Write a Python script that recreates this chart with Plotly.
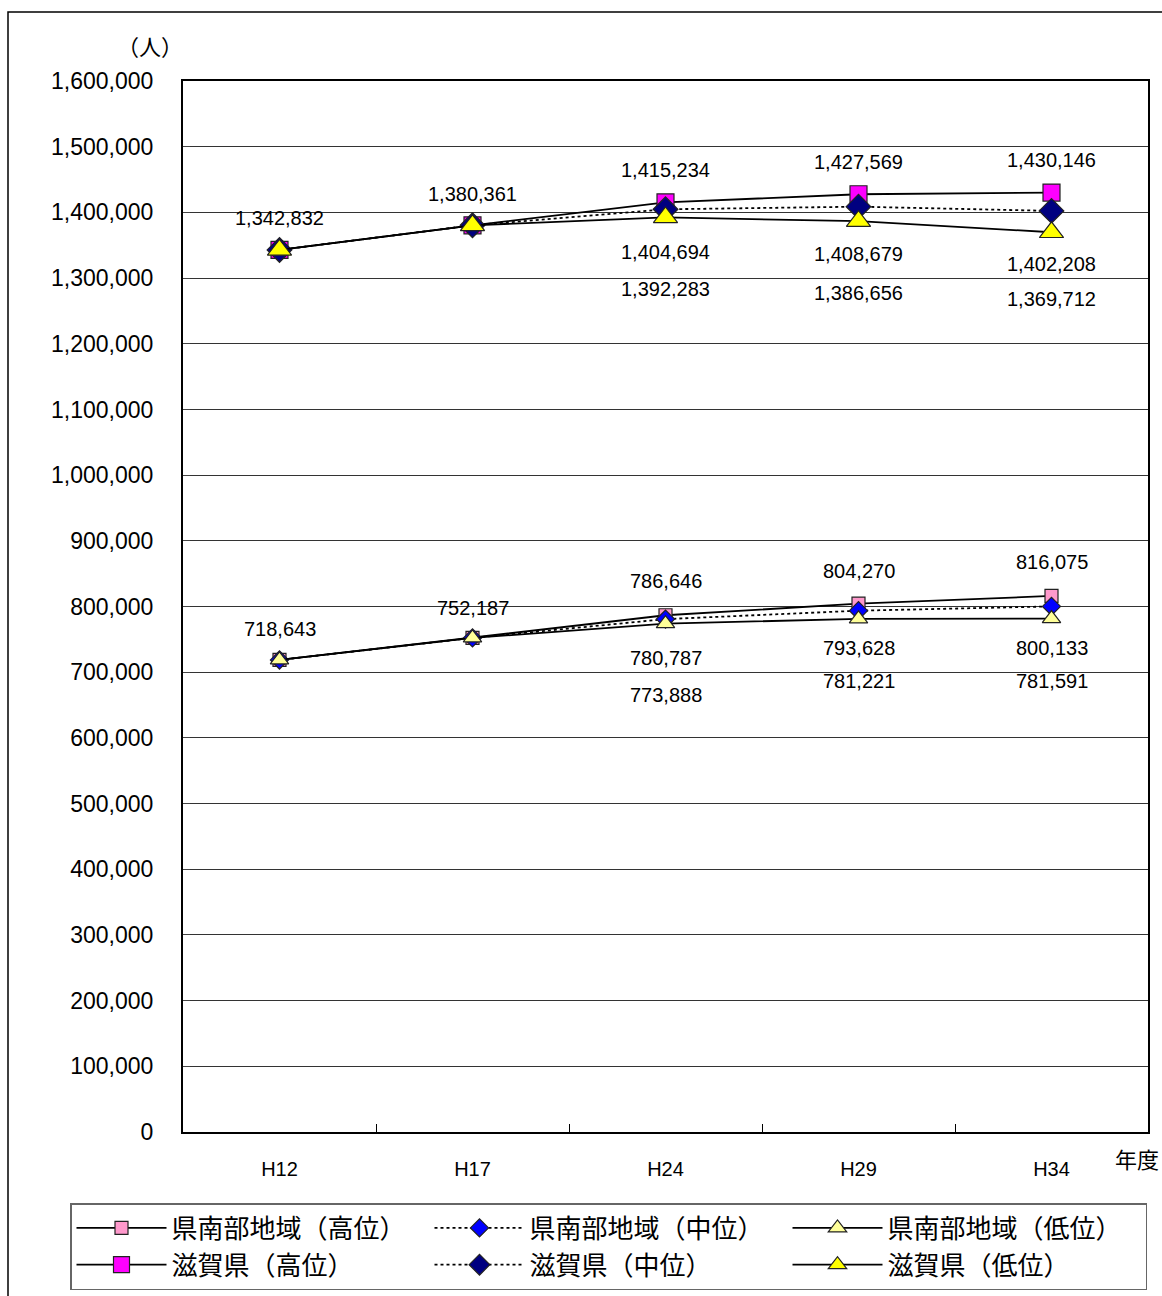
import plotly.graph_objects as go

years = ["H12", "H17", "H24", "H29", "H34"]

shiga_high = [1342832, 1380361, 1415234, 1427569, 1430146]
shiga_mid = [1342832, 1380361, 1404694, 1408679, 1402208]
shiga_low = [1342832, 1380361, 1392283, 1386656, 1369712]

south_high = [718643, 752187, 786646, 804270, 816075]
south_mid = [718643, 752187, 780787, 793628, 800133]
south_low = [718643, 752187, 773888, 781221, 781591]

y_ticks = list(range(0, 1600001, 100000))

SANS = "Liberation Sans, Arial, sans-serif"
CJK = "Noto Sans CJK JP, sans-serif"

fig = go.Figure()

def add(name, ys, symbol, color, size, dash, lw=1.8):
    fig.add_trace(go.Scatter(
        x=years, y=ys, name=name, mode="lines+markers",
        line=dict(color="black", width=lw, dash=dash),
        marker=dict(symbol=symbol, color=color, size=size,
                    line=dict(color="#222222", width=1.2)),
    ))

add("県南部地域（高位）", south_high, "square", "#FF99CC", 13, "solid")
add("県南部地域（中位）", south_mid, "diamond", "#0000FF", 14, "dot")
add("県南部地域（低位）", south_low, "triangle-up", "#FFFF99", 16, "solid")
add("滋賀県（高位）", shiga_high, "square", "#FF00FF", 17, "solid")
add("滋賀県（中位）", shiga_mid, "diamond", "#000080", 19, "dot")
add("滋賀県（低位）", shiga_low, "triangle-up", "#FFFF00", 21, "solid")

def fmt(v):
    return f"{v:,}"

# label offsets (pixels, style only)
hi_shift_top = [32, 31, 32, 32, 33]
mid_shift_top = [-43, -47, -53]
low_shift_top = [-72, -72, -67]
hi_shift_bot = [31, 30, 34, 33, 34]
mid_shift_bot = [-39, -37, -42]
low_shift_bot = [-71, -62, -62]

ann = []
for i, yr in enumerate(years):
    ann.append(dict(x=yr, y=shiga_high[i], text=fmt(shiga_high[i]), yshift=hi_shift_top[i]))
    ann.append(dict(x=yr, y=south_high[i], text=fmt(south_high[i]), yshift=hi_shift_bot[i]))
for j, i in enumerate(range(2, 5)):
    yr = years[i]
    ann.append(dict(x=yr, y=shiga_mid[i], text=fmt(shiga_mid[i]), yshift=mid_shift_top[j]))
    ann.append(dict(x=yr, y=shiga_low[i], text=fmt(shiga_low[i]), yshift=low_shift_top[j]))
    ann.append(dict(x=yr, y=south_mid[i], text=fmt(south_mid[i]), yshift=mid_shift_bot[j]))
    ann.append(dict(x=yr, y=south_low[i], text=fmt(south_low[i]), yshift=low_shift_bot[j]))
for a in ann:
    a.update(xref="x", yref="y", showarrow=False, xanchor="center", yanchor="middle",
             font=dict(family=SANS, size=20, color="black"))
    fig.add_annotation(**a)

# axis unit labels
fig.add_annotation(xref="paper", yref="paper", x=(150 - 183) / 965, y=(1132 - 45) / 1051,
                   xanchor="center", yanchor="middle",
                   text="（人）", showarrow=False, font=dict(family=CJK, size=22, color="black"))
fig.add_annotation(xref="paper", yref="paper", x=(1137 - 183) / 965, y=(1132 - 1158) / 1051,
                   xanchor="center", yanchor="middle",
                   text="年度", showarrow=False, font=dict(family=CJK, size=22, color="black"))

# outer frame
fig.add_shape(type="rect", xref="paper", yref="paper",
              x0=(8 - 183) / 965, x1=(1175 - 183) / 965,
              y0=(1132 - 1310) / 1051, y1=(1132 - 12) / 1051,
              line=dict(color="black", width=1.5), layer="below")

fig.update_layout(
    width=1162, height=1296,
    margin=dict(l=183, r=14, t=81, b=164, autoexpand=False),
    plot_bgcolor="white", paper_bgcolor="white",
    xaxis=dict(
        type="category", tickson="boundaries", ticks="inside", ticklen=8,
        tickcolor="black", showgrid=False, showline=True, linecolor="black",
        linewidth=2, mirror=True, tickfont=dict(family=SANS, size=20, color="black"),
        range=[-0.5, 4.5], ticklabelstandoff=18,
    ),
    yaxis=dict(
        range=[0, 1600000], tickvals=y_ticks, tickformat=",",
        ticks="inside", ticklen=7, tickcolor="#444444",
        showgrid=True, gridcolor="#333333", gridwidth=1,
        showline=True, linecolor="black", linewidth=2, mirror=True,
        tickfont=dict(family=SANS, size=23, color="black"), zeroline=False,
        ticklabelstandoff=23,
    ),
    legend=dict(
        orientation="h", x=(70 - 183) / 965, xanchor="left",
        y=(1132 - 1203) / 1051, yanchor="top",
        entrywidth=253, entrywidthmode="pixels",
        bordercolor="#666666", borderwidth=1.5, bgcolor="white",
        font=dict(family=CJK, size=26, color="black"),
        itemwidth=90, tracegroupgap=4,
    ),
    showlegend=True,
)

fig.write_html("out.html")
